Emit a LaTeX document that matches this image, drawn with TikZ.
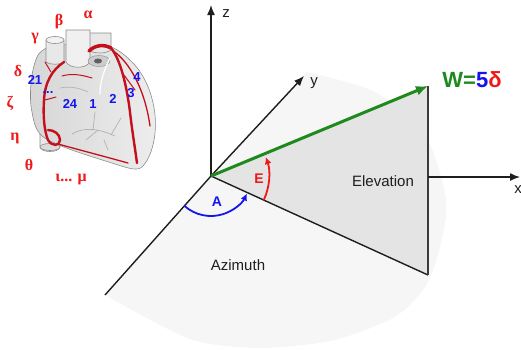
\documentclass[tikz,border=0pt]{standalone}
\usepackage{fontspec}
\setmainfont{Liberation Sans}
\newfontfamily\greekserif{Liberation Serif}
\usetikzlibrary{arrows.meta}

\definecolor{wgreen}{HTML}{1E8A1E}
\definecolor{wblue}{HTML}{1414F0}
\definecolor{wred}{HTML}{F01818}
\definecolor{artery}{HTML}{C4101C}
\definecolor{planegray}{HTML}{F6F6F6}
\definecolor{wedgegray}{HTML}{E4E4E4}
\definecolor{axisink}{HTML}{1E1E1E}
\definecolor{heartedge}{HTML}{8C8C8C}

\tikzset{
  axisline/.style={draw=axisink, line width=1.4pt},
  axisarrow/.style={axisline, -{Latex[length=10pt,width=8pt]}},
  plainlabel/.style={text=axisink, font=\fontsize{15}{18}\selectfont, inner sep=0pt},
  anglelabel/.style={font=\bfseries\fontsize{14}{16}\selectfont, inner sep=0pt},
  greeklabel/.style={text=wred, font=\greekserif\bfseries\fontsize{16}{18}\selectfont, inner sep=0pt},
  leadlabel/.style={text=wblue, font=\bfseries\fontsize{13}{15}\selectfont, inner sep=0pt},
  heartbody/.style={draw=heartedge, line width=0.6pt, left color=gray!32, right color=gray!14},
  vessel/.style={draw=heartedge, line width=0.6pt, fill=gray!18},
  arterybig/.style={draw=artery, line width=2.4pt, line cap=round},
  arterythin/.style={draw=artery, line width=1pt, line cap=round},
  vein/.style={draw=gray!60, line width=0.7pt, line cap=round},
}

\begin{document}
\begin{tikzpicture}[x=1pt, y=-1pt]
\useasboundingbox (0,0) rectangle (521,349);

% key points of the angle construction
\coordinate (O)    at (211,176);
\coordinate (ztip) at (211,5);
\coordinate (ytip) at (304,76);
\coordinate (yneg) at (105,295);
\coordinate (W)    at (428,86);
\coordinate (F)    at (428,275);
\coordinate (xst)  at (428,177);
\coordinate (xtip) at (520,177);

% horizontal half-plane
\fill[planegray] plot[smooth] coordinates {(306,72) (375,92) (425,135) (446,200) (440,247) (428,282) (410,305) (385,322) (330,341) (260,348) (200,342) (160,325) (105,295)} -- (O) -- cycle;

% elevation wedge
\fill[wedgegray] (O) -- (W) -- (F) -- cycle;

% axes
\draw[axisarrow] (O) -- (ztip);
\draw[axisarrow] (O) -- (ytip);
\draw[axisline] (O) -- (yneg);
\draw[axisline] (O) -- (F);
\draw[draw=gray!30!axisink, line width=1.6pt] (W) -- (F);
\draw[axisarrow] (xst) -- (xtip);

% viewing direction
\draw[draw=wgreen, line width=3pt, -{Latex[length=12pt,width=10pt]}] (O) -- (W);

% azimuth and elevation angles
\draw[draw=wblue, line width=1.8pt, -{Latex[length=7pt,width=7pt]}] (O) ++(131.7:40) arc[start angle=131.7, end angle=26, radius=40];
\draw[draw=wred, line width=1.8pt, -{Latex[length=7pt,width=7pt]}] (O) ++(24.5:58) arc[start angle=24.5, end angle=-19, radius=58];

\node[anglelabel, text=wblue] (A) at (217,202) {A};
\node[anglelabel, text=wred]  (E) at (259,179) {E};

\node[plainlabel] (zl) at (226,14) {z};
\node[plainlabel] (yl) at (314,83) {y};
\node[plainlabel] (xl) at (518,190) {x};
\node[plainlabel] (elev) at (383,181) {Elevation};
\node[plainlabel] (azim) at (238,265) {Azimuth};
\node[font=\bfseries\fontsize{22}{26}\selectfont, inner sep=0pt] (wlab) at (472,80)
  {\textcolor{wgreen}{W=}\textcolor{wblue}{5}\textcolor{wred}{δ}};

% ---- heart ----
% inferior vena cava stub
\path[vessel] (40,128) -- (40,147) .. controls (41,153) and (59,153) .. (60,147) -- (60,130) -- cycle;
\path[vessel, fill=gray!28] (50,147) ellipse (10 and 3.5);
% ventricles and atria
\path[heartbody] (38,55) .. controls (30,70) and (29,100) .. (32,112)
  .. controls (34,124) and (36,130) .. (42,136)
  .. controls (55,146) and (90,156) .. (115,164)
  .. controls (128,168) and (138,172) .. (143,166)
  .. controls (152,156) and (157,135) .. (155,115)
  .. controls (153,95) and (145,75) .. (132,62)
  .. controls (124,54) and (116,48) .. (108,46)
  -- (62,44) .. controls (52,45) and (43,48) .. (38,55) -- cycle;
% great vessels
\path[vessel] (46,40) -- (46,62) .. controls (50,65) and (60,65) .. (64,62) -- (64,40) -- cycle;
\path[vessel, fill=gray!10] (55,40) ellipse (9 and 3.5);
\path[vessel] (88,33) -- (88,50) .. controls (95,54) and (105,54) .. (111,50) -- (111,33) -- cycle;
\path[vessel, fill=gray!12] (66,30) -- (66,62) .. controls (70,69) and (86,69) .. (90,62) -- (90,30) -- cycle;
% pulmonary vein opening
\path[fill=gray!40, draw=heartedge, line width=0.4pt] (99,61) ellipse (11 and 5.5);
\fill[gray!75!black] (98,61) ellipse (4 and 2.5);
% surface vessels
\draw[vein] (72,134) .. controls (82,128) and (95,127) .. (115,136);
\draw[vein] (86,140) -- (98,130);
\draw[vein] (95,112) -- (93,130);
\draw[vein] (121,118) -- (111,135);
\draw[vein] (60,88) .. controls (70,86) and (80,88) .. (88,92);
\draw[vein] (104,140) -- (108,150);
\draw[white, line width=1.2pt] (110,58) .. controls (104,70) and (100,82) .. (100,94);
% coronary arteries
\draw[arterybig, line width=3.5pt] (89,51) .. controls (95,45) and (104,44) .. (111,48);
\draw[arterybig] (111,48) .. controls (121,60) and (127,88) .. (130,112) .. controls (132,130) and (135,148) .. (137,163);
\draw[arterythin, line width=1.3pt] (112,50) .. controls (130,62) and (145,90) .. (150,126);
\draw[arterybig] (64,62) .. controls (52,70) and (45,82) .. (44,100)
  .. controls (43,115) and (44,130) .. (48,140)
  .. controls (52,147) and (60,146) .. (60,140)
  .. controls (60,134) and (54,130) .. (48,130);
\draw[arterythin, line width=1.3pt] (58,144) .. controls (80,150) and (110,158) .. (128,163);
\draw[arterythin] (62,76) .. controls (72,73) and (82,75) .. (92,78);
\draw[arterythin] (51,72) -- (45,62);
\draw[arterythin] (45,100) -- (56,97);
\draw[arterythin] (124,75) -- (135,90);

% lead labels
\node[leadlabel] (l21) at (35,80)  {21};
\node[leadlabel] (ldots) at (48,93) {...};
\node[leadlabel] (l24) at (70,104) {24};
\node[leadlabel] (l1) at (93,104)  {1};
\node[leadlabel] (l2) at (113,99)  {2};
\node[leadlabel] (l3) at (131,93)  {3};
\node[leadlabel] (l4) at (137,77)  {4};

% angle symbols around the heart
\node[greeklabel] (ga) at (88,15)  {α};
\node[greeklabel] (gb) at (59,22)  {β};
\node[greeklabel] (gc) at (35,39)  {γ};
\node[greeklabel] (gd) at (18,71)  {δ};
\node[greeklabel] (gz) at (10,103) {ζ};
\node[greeklabel] (gh) at (15,138) {η};
\node[greeklabel] (gt) at (29,165) {θ};
\node[greeklabel] (gim) at (71,180) {ι... μ};
\end{tikzpicture}
\end{document}
